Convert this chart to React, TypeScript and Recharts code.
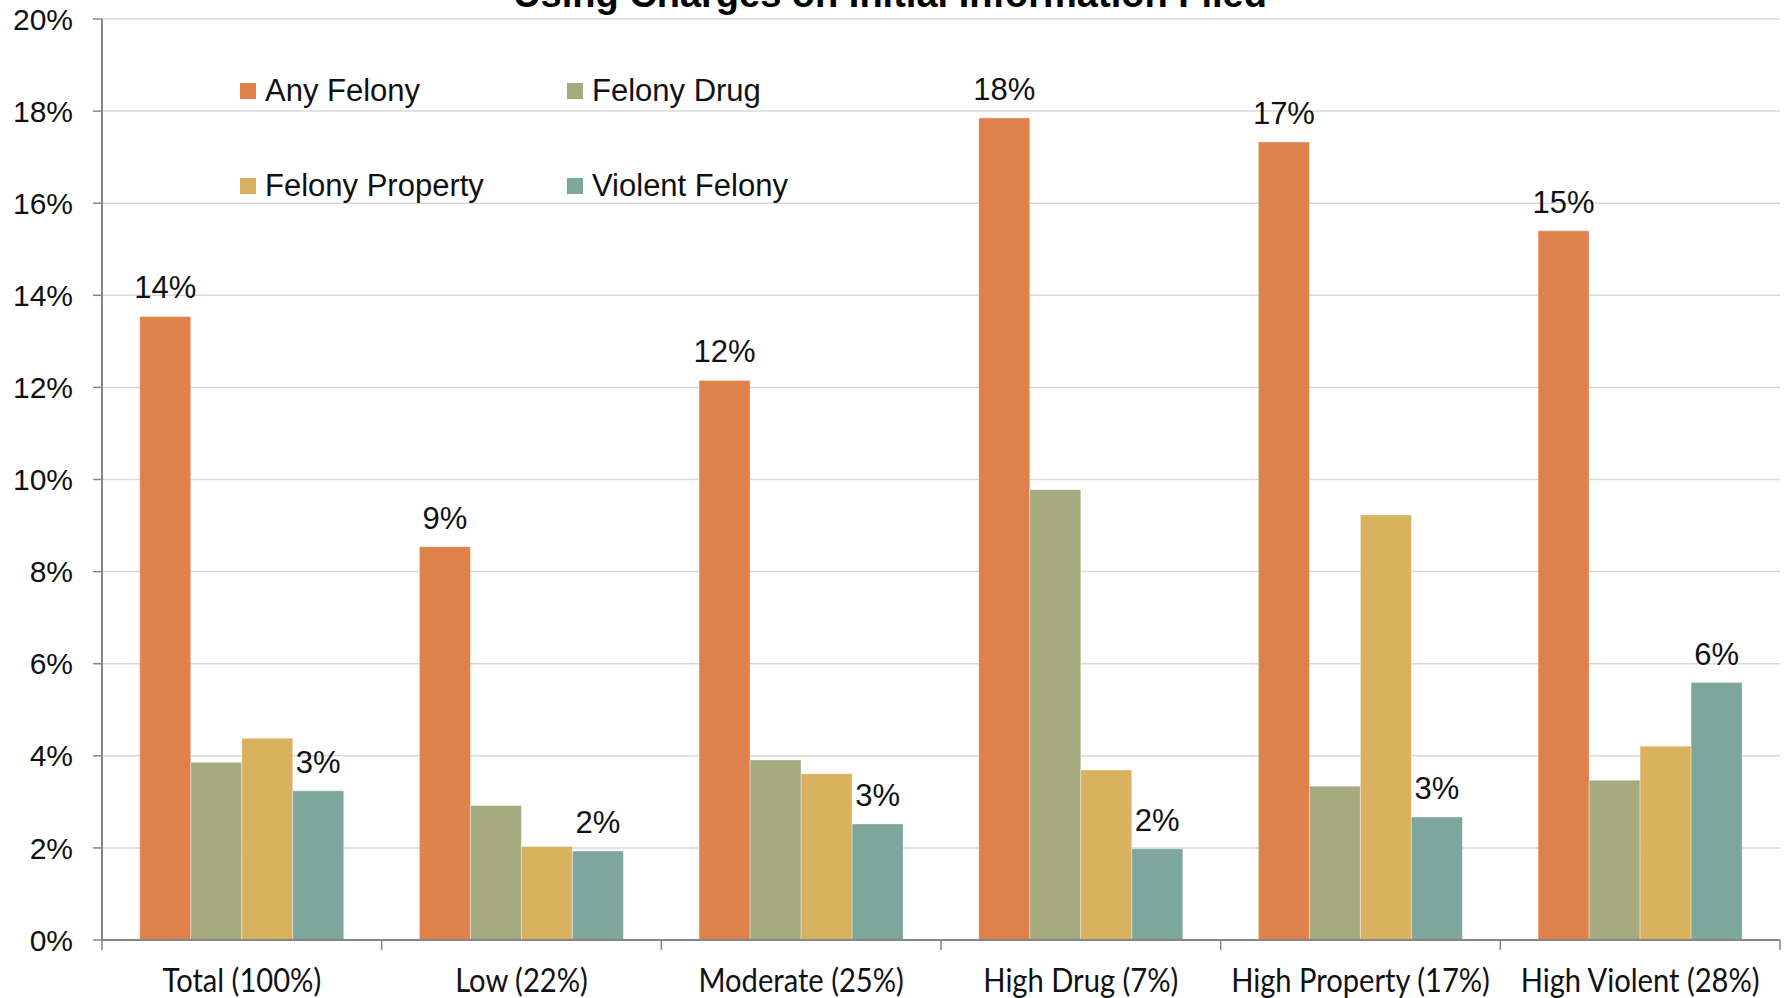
import { Bar, BarChart, CartesianGrid, LabelList, XAxis, YAxis } from "recharts";

const categories = [
  "Total (100%)",
  "Low (22%)",
  "Moderate (25%)",
  "High Drug (7%)",
  "High Property (17%)",
  "High Violent (28%)",
];
const anyFelony = [13.54, 8.54, 12.15, 17.85, 17.33, 15.4];
const felonyDrug = [3.86, 2.92, 3.91, 9.78, 3.34, 3.47];
const felonyProperty = [4.38, 2.03, 3.61, 3.69, 9.23, 4.21];
const violentFelony = [3.24, 1.93, 2.52, 1.98, 2.67, 5.59];
const yTicks = [0, 2, 4, 6, 8, 10, 12, 14, 16, 18, 20];

const series = [
  { key: "any", name: "Any Felony", color: "#DE814A", labelled: true },
  { key: "drug", name: "Felony Drug", color: "#A5AB7F", labelled: false },
  { key: "property", name: "Felony Property", color: "#D8B25E", labelled: false },
  { key: "violent", name: "Violent Felony", color: "#7DA79D", labelled: true },
];

const data = categories.map((name, i) => ({
  name,
  any: anyFelony[i],
  drug: felonyDrug[i],
  property: felonyProperty[i],
  violent: violentFelony[i],
}));

const W = 1789;
const H = 998;
const MARGIN = { top: 19, right: 9, left: 0, bottom: 0 };
const Y_AXIS_W = 102;
const X_AXIS_H = 58;
const TICK_GAP = 31;
const AXIS_GREY = "#868686";
const SANS = '"Liberation Sans", Arial, sans-serif';

// Excel style: tick marks sit between the categories, labels in the middle
const CategoryTick = (props: any) => {
  const { x, y, payload, index } = props;
  const band = (W - MARGIN.left - MARGIN.right - Y_AXIS_W) / categories.length;
  const axisY = -TICK_GAP;
  return (
    <g transform={`translate(${x},${y})`}>
      <line x1={-band / 2} x2={-band / 2} y1={axisY} y2={axisY + 10} stroke={AXIS_GREY} strokeWidth={1.5} />
      {index === categories.length - 1 && (
        <line x1={band / 2} x2={band / 2} y1={axisY} y2={axisY + 10} stroke={AXIS_GREY} strokeWidth={1.5} />
      )}
      <text
        transform="scale(0.87,1)"
        textAnchor="middle"
        y={21}
        fontFamily="Lato, sans-serif"
        fontSize={33.5}
        fill="#111"
      >
        {payload.value}
      </text>
    </g>
  );
};

const LegendBox = () => (
  <div
    style={{
      position: "absolute",
      left: 240,
      top: 71,
      display: "grid",
      gridTemplateColumns: "327px 300px",
      gridAutoRows: "95px",
      fontFamily: SANS,
      fontSize: 31,
      color: "#111",
    }}
  >
    {series.map((s) => (
      <div key={s.key} style={{ display: "flex", alignItems: "center", height: 40 }}>
        <span style={{ width: 16, height: 16, background: s.color, marginRight: 9 }} />
        <span>{s.name}</span>
      </div>
    ))}
  </div>
);

const App = () => {
  return (
    <div style={{ position: "absolute", left: 0, top: 0, width: W, height: H, background: "#fff" }}>
      <BarChart
        width={W}
        height={H}
        data={data}
        margin={MARGIN}
        barCategoryGap="13.5%"
        barGap={0}
      >
        <CartesianGrid vertical={false} stroke="#d9d9d9" strokeWidth={1.5} yAxisId="left" />
        <XAxis
          dataKey="name"
          height={X_AXIS_H}
          tickLine={false}
          axisLine={{ stroke: AXIS_GREY, strokeWidth: 2 }}
          tickSize={0}
          tickMargin={TICK_GAP}
          interval={0}
          tick={<CategoryTick />}
        />
        <XAxis
          xAxisId="top"
          orientation="top"
          dataKey="name"
          height={0}
          tick={false}
          tickLine={false}
          axisLine={{ stroke: "#000", strokeWidth: 2.5 }}
        />
        <YAxis
          yAxisId="left"
          width={Y_AXIS_W}
          domain={[0, 20]}
          ticks={yTicks}
          tickFormatter={(v: number) => `${v}%`}
          axisLine={{ stroke: AXIS_GREY, strokeWidth: 2 }}
          tickLine={{ stroke: AXIS_GREY, strokeWidth: 1.5 }}
          tickSize={9}
          tickMargin={20}
          tick={{ fontFamily: SANS, fontSize: 30, fill: "#111" }}
        />
        <YAxis
          yAxisId="right"
          orientation="right"
          width={0}
          domain={[0, 20]}
          tick={false}
          tickLine={false}
          axisLine={{ stroke: "#000", strokeWidth: 2.5 }}
        />
        {series.map((s) => (
          <Bar
            key={s.key}
            dataKey={s.key}
            name={s.name}
            yAxisId="left"
            fill={s.color}
            stroke="#ffffff"
            strokeOpacity={0.35}
            strokeWidth={1}
            isAnimationActive={false}
          >
            {s.labelled && (
              <LabelList
                dataKey={s.key}
                position="top"
                offset={18}
                formatter={(v: number) => `${Math.round(v)}%`}
                style={{ fontFamily: SANS, fontSize: 31, fill: "#111" }}
              />
            )}
          </Bar>
        ))}
      </BarChart>
      <svg width={W} height={40} style={{ position: "absolute", left: 0, top: 0, overflow: "hidden" }}>
        <text x={890} y={7} textAnchor="middle" fontFamily={SANS} fontWeight="bold" fontSize={38} fill="#000">
          Using Charges on Initial Information Filed
        </text>
      </svg>
      <LegendBox />
    </div>
  );
};

export default App;
